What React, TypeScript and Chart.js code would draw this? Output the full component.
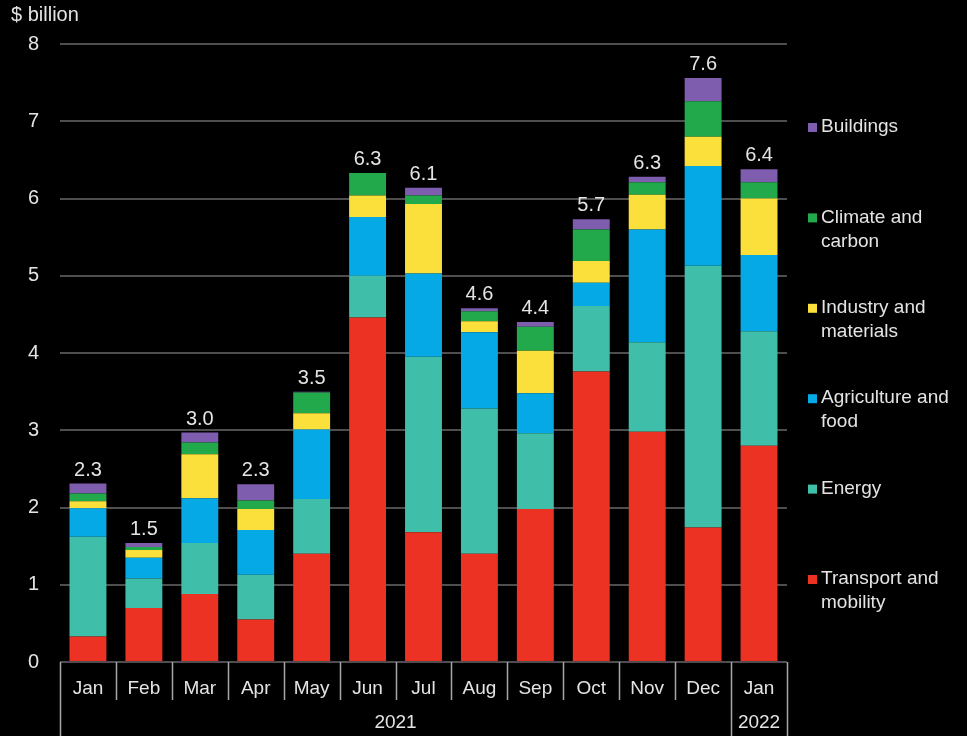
import React, { useEffect, useRef } from 'react';
import { Chart, registerables } from 'chart.js';

Chart.register(...registerables);

const months = ['Jan', 'Feb', 'Mar', 'Apr', 'May', 'Jun', 'Jul', 'Aug', 'Sep', 'Oct', 'Nov', 'Dec', 'Jan'];
const years = ['2021', '2022'];
const yearSpans = [12, 1];
const totalLabels = ['2.3', '1.5', '3.0', '2.3', '3.5', '6.3', '6.1', '4.6', '4.4', '5.7', '6.3', '7.6', '6.4'];
const yTicks = [0, 1, 2, 3, 4, 5, 6, 7, 8];
const unitLabel = '$ billion';

const transport = [0.33, 0.70, 0.88, 0.55, 1.40, 4.46, 1.68, 1.40, 1.98, 3.76, 2.98, 1.74, 2.80];
const energy = [1.29, 0.38, 0.66, 0.58, 0.71, 0.54, 2.27, 1.88, 0.98, 0.85, 1.16, 3.39, 1.48];
const agriculture = [0.37, 0.27, 0.58, 0.58, 0.90, 0.76, 1.08, 0.99, 0.52, 0.30, 1.46, 1.29, 0.99];
const industry = [0.09, 0.10, 0.57, 0.27, 0.21, 0.28, 0.90, 0.14, 0.55, 0.28, 0.45, 0.38, 0.73];
const climate = [0.10, 0.04, 0.15, 0.11, 0.27, 0.29, 0.11, 0.13, 0.31, 0.41, 0.16, 0.46, 0.21];
const buildings = [0.13, 0.05, 0.13, 0.21, 0.01, 0.0, 0.10, 0.04, 0.06, 0.13, 0.07, 0.30, 0.17];

const seriesNames = [
  ['Transport and', 'mobility'],
  ['Energy'],
  ['Agriculture and', 'food'],
  ['Industry and', 'materials'],
  ['Climate and', 'carbon'],
  ['Buildings'],
];
const seriesValues = [transport, energy, agriculture, industry, climate, buildings];
const seriesColors = ['#ec3223', '#3fbfa9', '#05a9e6', '#fbe03c', '#22a94b', '#7e5cae'];

const FONT = "'Liberation Sans', Arial, sans-serif";
const TEXT = '#e4e4e4';

const overlayPlugin = {
  id: 'overlay',
  afterDraw(chart: any) {
    const ctx = chart.ctx;
    const xs = chart.scales.x;
    const area = chart.chartArea;
    ctx.save();

    // unit label
    ctx.fillStyle = TEXT;
    ctx.font = `20px ${FONT}`;
    ctx.textAlign = 'left';
    ctx.textBaseline = 'middle';
    ctx.fillText(unitLabel, 11, 15);

    // totals above bars
    const lastMeta = chart.getDatasetMeta(chart.data.datasets.length - 1);
    ctx.font = `20px ${FONT}`;
    ctx.textAlign = 'center';
    ctx.textBaseline = 'alphabetic';
    totalLabels.forEach((t, i) => {
      const el = lastMeta.data[i];
      ctx.fillText(t, el.x, el.y - 8);
    });

    // month separators and year row
    const half = (xs.getPixelForValue(1) - xs.getPixelForValue(0)) / 2;
    const bottom = chart.height;
    const yearBounds: number[] = [0];
    let acc = 0;
    yearSpans.forEach((s) => { acc += s; yearBounds.push(acc); });
    ctx.strokeStyle = '#a8a8a8';
    ctx.lineWidth = 1.5;
    for (let i = 0; i <= months.length; i++) {
      const x = Math.round(xs.getPixelForValue(i) - half) + 0.5;
      const isYear = yearBounds.includes(i);
      ctx.beginPath();
      ctx.moveTo(x, area.bottom);
      ctx.lineTo(x, isYear ? bottom : area.bottom + 38);
      ctx.stroke();
    }
    ctx.font = `19px ${FONT}`;
    ctx.textAlign = 'center';
    ctx.textBaseline = 'middle';
    years.forEach((yr, k) => {
      const a = xs.getPixelForValue(yearBounds[k]) - half;
      const b = xs.getPixelForValue(yearBounds[k + 1]) - half;
      ctx.fillText(yr, (a + b) / 2, area.bottom + 61);
    });

    // legend (reverse order, top = last series)
    ctx.font = `19px ${FONT}`;
    ctx.textAlign = 'left';
    ctx.textBaseline = 'middle';
    const ds = chart.data.datasets;
    for (let k = 0; k < ds.length; k++) {
      const d = ds[ds.length - 1 - k];
      const yTop = 127 + k * 90.4;
      ctx.fillStyle = d.backgroundColor;
      ctx.fillRect(808, yTop - 4, 9, 9);
      ctx.fillStyle = TEXT;
      const lines = seriesNames[ds.length - 1 - k];
      lines.forEach((ln, j) => ctx.fillText(ln, 821, yTop + j * 24));
    }
    ctx.restore();
  },
};

export default function App() {
  const ref = useRef<HTMLCanvasElement | null>(null);
  useEffect(() => {
    if (!ref.current) return;
    const chart = new Chart(ref.current, {
      type: 'bar',
      data: {
        labels: months,
        datasets: seriesValues.map((vals, i) => ({
          label: seriesNames[i].join(' '),
          data: vals,
          backgroundColor: seriesColors[i],
          borderWidth: 0,
          barPercentage: 0.66,
          categoryPercentage: 1,
        })),
      },
      options: {
        animation: false,
        responsive: true,
        maintainAspectRatio: false,
        events: [],
        layout: { padding: { top: 44, right: 180, left: 0, bottom: 0 } },
        plugins: { legend: { display: false }, tooltip: { enabled: false }, title: { display: false } },
        scales: {
          x: {
            stacked: true,
            offset: true,
            grid: { display: false, drawTicks: false },
            border: { display: false },
            ticks: { color: TEXT, font: { family: FONT, size: 19 }, padding: 15, maxRotation: 0, autoSkip: false },
            afterFit: (s: any) => { s.height = 74; },
          },
          y: {
            stacked: true,
            min: yTicks[0],
            max: yTicks[yTicks.length - 1],
            afterBuildTicks: (s: any) => { s.ticks = yTicks.map((v) => ({ value: v })); },
            grid: { color: '#4e4e4e', lineWidth: 2, drawTicks: false },
            border: { display: false },
            ticks: { color: TEXT, font: { family: FONT, size: 20 }, padding: 21 },
            afterFit: (s: any) => { s.width = 60; },
          },
        },
      },
      plugins: [overlayPlugin],
    });
    return () => chart.destroy();
  }, []);
  return (
    <div style={{ position: 'fixed', left: 0, top: 0, width: 967, height: 736, background: '#000' }}>
      <canvas ref={ref} />
    </div>
  );
}
